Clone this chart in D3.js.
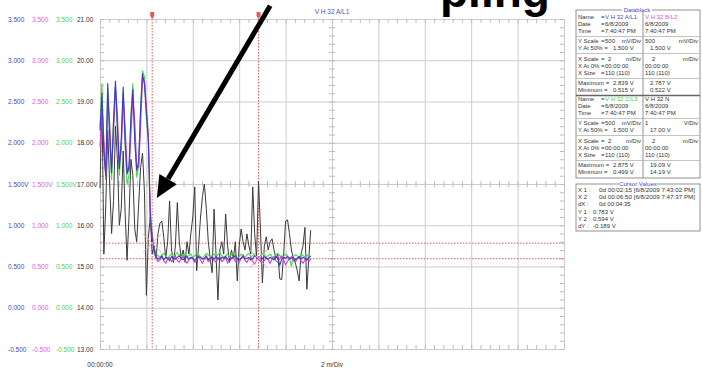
<!DOCTYPE html>
<html><head><meta charset="utf-8">
<script src="https://cdn.jsdelivr.net/npm/d3@7"></script>
<style>
body{margin:0;background:#fff;}
svg{display:block;font-family:"Liberation Sans",Arial,sans-serif;}
</style></head><body>
<svg id="c" width="702" height="373"></svg>
<script>
// ---------------- DATA ----------------
const sampleStep = 5; // seconds between samples (X Size 110)
const blueA = [2.15,2.60,1.90,1.60,2.72,2.10,1.63,2.26,2.75,2.20,1.68,2.05,2.68,2.02,1.62,1.72,2.30,2.65,2.02,1.66,1.78,2.40,2.839,2.70,2.35,2.05,1.10,0.83,0.70,
0.62,0.59,0.60,0.63,0.58,0.61,0.60,0.57,0.62,0.60,
0.59,0.61,0.63,0.60,0.58,0.60,0.62,0.59,0.61,0.60,
0.57,0.60,0.62,0.61,0.59,0.60,0.63,0.58,0.60,0.61,
0.59,0.62,0.60,0.58,0.61,0.60,0.62,0.59,0.57,0.60,
0.61,0.63,0.60,0.58,0.60,0.62,0.59,0.60,0.61,0.58,
0.60,0.63,0.61,0.59,0.56,0.60,0.62,0.60,0.59,0.61,
0.60,0.58,0.62,0.60,0.515,0.59,0.61,0.60,0.62,0.59,
0.60,0.61,0.58,0.60,0.62,0.59,0.61,0.60,0.58,0.61,0.62];
const magentaB = [1.95,2.45,2.05,1.55,2.55,2.25,1.70,2.10,2.65,2.35,1.75,1.90,2.55,2.20,1.70,1.65,2.10,2.55,2.25,1.72,1.70,2.20,2.787,2.75,2.45,2.10,1.20,0.88,0.66,
0.60,0.56,0.58,0.62,0.57,0.54,0.59,0.61,0.56,0.58,
0.63,0.57,0.55,0.60,0.62,0.57,0.54,0.58,0.61,0.59,
0.55,0.57,0.62,0.58,0.54,0.59,0.61,0.56,0.58,0.63,
0.57,0.55,0.60,0.62,0.56,0.58,0.61,0.54,0.57,0.60,
0.62,0.56,0.58,0.55,0.60,0.64,0.57,0.55,0.59,0.61,
0.56,0.53,0.58,0.62,0.60,0.55,0.57,0.61,0.58,0.54,
0.59,0.62,0.57,0.55,0.60,0.63,0.58,0.522,0.56,0.60,
0.62,0.57,0.55,0.59,0.61,0.57,0.54,0.58,0.60,0.56,0.59];
const greenC = [2.20,2.72,1.85,1.62,2.66,2.00,1.55,2.30,2.70,2.10,1.60,2.00,2.62,1.95,1.50,1.60,2.35,2.72,2.05,1.58,1.72,2.45,2.875,2.80,2.30,2.00,1.05,0.90,0.72,
0.66,0.63,0.61,0.64,0.66,0.62,0.60,0.63,0.65,0.62,
0.64,0.67,0.63,0.61,0.64,0.66,0.62,0.63,0.65,0.61,
0.63,0.66,0.64,0.62,0.60,0.63,0.66,0.64,0.61,0.63,
0.65,0.62,0.64,0.67,0.63,0.61,0.63,0.65,0.62,0.64,
0.66,0.63,0.60,0.62,0.65,0.63,0.61,0.64,0.66,0.62,
0.63,0.65,0.61,0.60,0.63,0.66,0.64,0.62,0.63,0.65,
0.62,0.60,0.64,0.66,0.63,0.61,0.62,0.65,0.63,0.60,
0.499,0.62,0.64,0.63,0.61,0.65,0.63,0.62,0.64,0.61,0.63];
const blackN = [16.9,19.09,15.3,16.5,18.3,17.0,15.8,16.6,18.4,17.6,
16.0,16.4,17.8,16.3,15.15,16.2,17.6,17.2,15.9,15.6,
16.5,17.4,17.75,16.8,14.3,15.7,16.2,15.3,15.5,15.2,
15.8,16.05,16.1,15.7,15.2,15.6,16.59,15.4,15.1,15.5,
16.55,15.6,15.2,15.4,15.1,15.6,15.3,15.8,16.2,16.93,
14.9,15.5,16.2,16.7,17.0,16.4,15.6,15.2,14.85,16.39,
15.3,14.19,15.4,15.6,15.3,16.27,15.5,15.1,15.4,15.2,
15.6,14.65,15.5,15.91,15.6,15.4,15.79,15.5,15.3,16.93,
15.8,15.2,17.07,15.9,14.6,15.5,15.72,15.4,15.6,15.67,
15.4,15.2,15.3,14.7,14.68,15.3,16.1,16.13,15.8,15.4,
15.2,15.1,14.9,14.65,15.3,15.5,15.95,14.45,15.2,15.88];

const vTicks = [3.5,3,2.5,2,1.5,1,0.5,0,-0.5];
const vLabels = ["3.500","3.000","2.500","2.000","1.500V","1.000","0.500","0.000","-0.500"];
const nTicks = [21,20,19,18,17,16,15,14,13];
const nLabels = ["21.00","20.00","19.00","18.00","17.00V","16.00","15.00","14.00","13.00"];
const timeMajor = [0,120,240,360,480,600,720,840,960,1080,1200];
const cursorX = [135, 410];     // seconds (X1 = 00:02:15, X2 = 00:06:50)
const cursorY = [0.783, 0.594]; // volts

const dbLabels = ["Name","Date","Time","Y Scale","Y At 50%","X Scale","X At 0%","X Size","Maximum","Minimum"];
const dbBlock1 = [
  ["V H 32 A/L1","6/8/2009","7:40:47 PM","500","1.500 V","2","00:00:00","110 (110)","2.839 V","0.515 V"],
  ["V H 32 B/L2","6/8/2009","7:40:47 PM","500","1.500 V","2","00:00:00","110 (110)","2.787 V","0.522 V"]];
const dbBlock2 = [
  ["V H 32 C/L3","6/8/2009","7:40:47 PM","500","1.500 V","2","00:00:00","110 (110)","2.875 V","0.499 V"],
  ["V H 32 N","6/8/2009","7:40:47 PM","1","17.00  V","2","00:00:00","110 (110)","19.09  V","14.19  V"]];
const dbUnits1 = [["mV/Div","m/Div"],["mV/Div","m/Div"]];
const dbUnits2 = [["mV/Div","m/Div"],["V/Div","m/Div"]];
const cursorRows = [
  ["X 1 :","0d 00:02:15 [6/8/2009 7:43:02 PM]"],
  ["X 2 :","0d 00:06:50 [6/8/2009 7:47:37 PM]"],
  ["dX :","0d 00:04:35"],
  ["Y 1 :","0.783 V"],
  ["Y 2 :","0.594 V"],
  ["dY :","-0.189 V"]];

// ---------------- CHART ----------------
const svg = d3.select("#c");
const L=100, R=564, T=19, B=349;
const x = d3.scaleLinear().domain([0,1200]).range([L,R]);
const yV = d3.scaleLinear().domain([-0.5,3.5]).range([B,T]);
const yN = d3.scaleLinear().domain([13,21]).range([B,T]);
const gridCol = "#cccccc";

// slide title fragment (cropped at top, behind the chart)
svg.append("text").attr("x",440).attr("y",7).style("font-size","46px").style("font-weight","bold")
  .attr("fill","#000").text("pling");

// major grid
svg.append("g").attr("transform",`translate(0,${B})`)
  .call(d3.axisBottom(x).tickValues(timeMajor).tickSize(-(B-T)).tickFormat(""))
  .call(g=>{g.select(".domain").remove();g.selectAll("line").attr("stroke",gridCol);});
svg.append("g").attr("transform",`translate(${L},0)`)
  .call(d3.axisLeft(yV).tickValues(vTicks).tickSize(-(R-L)).tickFormat(""))
  .call(g=>{g.select(".domain").remove();g.selectAll("line").attr("stroke",gridCol);});

// minor ticks
const tMinor = d3.range(0,1201,24);
const vMinor = d3.range(-5,36,1).map(d=>d/10);
const minor = (axis, tr) => svg.append("g").attr("transform",tr).call(axis)
  .call(g=>{g.select(".domain").remove();g.selectAll("line").attr("stroke","#bdbdbd");});
minor(d3.axisBottom(x).tickValues(tMinor).tickSize(4).tickFormat(""), `translate(0,${T})`);
minor(d3.axisTop(x).tickValues(tMinor).tickSize(4).tickFormat(""), `translate(0,${B})`);
minor(d3.axisBottom(x).tickValues(tMinor).tickSize(3).tickFormat(""), `translate(0,${yV(1.5)})`);
minor(d3.axisTop(x).tickValues(tMinor).tickSize(3).tickFormat(""), `translate(0,${yV(1.5)})`);
minor(d3.axisRight(yV).tickValues(vMinor).tickSize(4).tickFormat(""), `translate(${L},0)`);
minor(d3.axisLeft(yV).tickValues(vMinor).tickSize(4).tickFormat(""), `translate(${R},0)`);
minor(d3.axisRight(yV).tickValues(vMinor).tickSize(3).tickFormat(""), `translate(${x(600)},0)`);
minor(d3.axisLeft(yV).tickValues(vMinor).tickSize(3).tickFormat(""), `translate(${x(600)},0)`);

// left labels (four columns)
const labelAxis = (scale, ticks, labels, color, xpos) => svg.append("g")
  .attr("transform",`translate(${xpos},0)`)
  .call(d3.axisRight(scale).tickValues(ticks).tickFormat((d,i)=>labels[i]).tickSize(0).tickPadding(0))
  .call(g=>{g.select(".domain").remove();g.selectAll("text").attr("fill",color).style("font-size","6.5px");});
labelAxis(yV, vTicks, vLabels, "#4a4aa8", 8);
labelAxis(yV, vTicks, vLabels, "#e060e0", 32);
labelAxis(yV, vTicks, vLabels, "#50d050", 56);
labelAxis(yN, nTicks, nLabels, "#333333", 77);

// time labels
svg.append("text").attr("x",x(0)).attr("y",367).attr("text-anchor","middle")
  .style("font-size","6.5px").attr("fill","#333").text("00:00:00");
svg.append("text").attr("x",x(600)).attr("y",367).attr("text-anchor","middle")
  .style("font-size","6.5px").attr("fill","#333").text("2 m/Div");
svg.append("text").attr("x",x(600)).attr("y",14).attr("text-anchor","middle")
  .style("font-size","6.5px").attr("fill","#5050c0").text("V H 32 A/L1");

// cursors
const red = "#e05a5a";
cursorY.forEach(v=>svg.append("line").attr("x1",L).attr("x2",R).attr("y1",yV(v)).attr("y2",yV(v))
  .attr("stroke",red).attr("stroke-width",1).attr("stroke-dasharray","1.5,1.5"));
cursorX.forEach(t=>{
  svg.append("line").attr("x1",x(t)).attr("x2",x(t)).attr("y1",13).attr("y2",B)
    .attr("stroke",red).attr("stroke-width",1).attr("stroke-dasharray","1.5,1.5");
  svg.append("path").attr("d",`M${x(t)-2},12 h4 v4 l-2,3 l-2,-3 z`).attr("fill",red);
});

// traces
const line = sc => d3.line().x((d,i)=>x(i*sampleStep)).y(d=>sc(d));
svg.append("path").datum(blackN).attr("d",line(yN)).attr("fill","none").attr("stroke","#3a3a3a").attr("stroke-width",1);
svg.append("path").datum(greenC).attr("d",line(yV)).attr("fill","none").attr("stroke","#44dd44").attr("stroke-width",1.1);
svg.append("path").datum(magentaB).attr("d",line(yV)).attr("fill","none").attr("stroke","#d63ad6").attr("stroke-width",1.1);
svg.append("path").datum(blueA).attr("d",line(yV)).attr("fill","none").attr("stroke","#3b3bc4").attr("stroke-width",1.1);

// cursor cross markers
cursorX.forEach((t,i)=>{
  const cx=x(t), cy=yV(cursorY[i]);
  svg.append("path").attr("d",`M${cx-9},${cy-9}L${cx+9},${cy+9}M${cx-9},${cy+9}L${cx+9},${cy-9}`)
    .attr("stroke","#f0a8b8").attr("stroke-width",1).attr("fill","none");
});

// annotation arrow (data space: time s, N volts)
const arrowFrom = [440, 21.32], arrowTo = [147, 16.66];
const ax1=x(arrowFrom[0]), ay1=yN(arrowFrom[1]), ax2=x(arrowTo[0]), ay2=yN(arrowTo[1]);
const ang=Math.atan2(ay2-ay1, ax2-ax1), hl=22, hw=10;
const bx=ax2-hl*Math.cos(ang), by=ay2-hl*Math.sin(ang);
svg.append("line").attr("x1",ax1).attr("y1",ay1).attr("x2",bx).attr("y2",by)
  .attr("stroke","#000").attr("stroke-width",5);
svg.append("path").attr("d",`M${ax2},${ay2}L${bx+hw*Math.sin(ang)},${by-hw*Math.cos(ang)}L${bx-hw*Math.sin(ang)},${by+hw*Math.cos(ang)}Z`)
  .attr("fill","#000");

// ---------------- DATABLOCK ----------------
const db = svg.append("g").style("font-size","6px").attr("fill","#333");
const dbL=576, dbR=700, dbMid=643;
db.append("rect").attr("x",dbL).attr("y",10).attr("width",dbR-dbL).attr("height",168)
  .attr("fill","#fff").attr("stroke","#777").attr("stroke-width",0.8);
db.append("rect").attr("x",622).attr("y",6).attr("width",30).attr("height",8).attr("fill","#fff");
db.append("text").attr("x",637).attr("y",12).attr("text-anchor","middle").attr("fill","#4a4ad0").text("Datablock");
db.append("line").attr("x1",dbMid).attr("x2",dbMid).attr("y1",10).attr("y2",178).attr("stroke","#777").attr("stroke-width",0.8);
const rowY1 = [19,26,33,43,50,61,68,75,85,92];
const rowY2 = rowY1.map(v=>v+82);
const seps1 = [36.5,53.5,78.5], seps2 = seps1.map(v=>v+82);
seps1.concat(seps2).forEach(s=>db.append("line").attr("x1",dbL).attr("x2",dbR).attr("y1",s).attr("y2",s).attr("stroke","#aaa").attr("stroke-width",0.7));
db.append("line").attr("x1",dbL).attr("x2",dbR).attr("y1",95.5).attr("y2",95.5).attr("stroke","#666").attr("stroke-width",1.4);
const nameCols = [["#4a4ad0","#e050e0"],["#40d040","#333"]];
[[dbBlock1,rowY1,dbUnits1],[dbBlock2,rowY2,dbUnits2]].forEach(([blk,ry,units],bi)=>{
  dbLabels.forEach((lab,r)=>{
    const longLab = (r===4||r===8||r===9);
    db.append("text").attr("x",578).attr("y",ry[r]).text(lab + (longLab?" =":""));
    if(!longLab) db.append("text").attr("x",601).attr("y",ry[r]).text("=");
    const vx = longLab?613:605;
    db.append("text").attr("x",r===5?608:vx).attr("y",ry[r]).attr("fill",r===0?nameCols[bi][0]:"#333").text(blk[0][r]);
    db.append("text").attr("x",r===5?652:(longLab?650:645)).attr("y",ry[r]).attr("fill",r===0?nameCols[bi][1]:"#333").text(blk[1][r]);
  });
  [3,5].forEach((r,k)=>{
    db.append("text").attr("x",641).attr("y",ry[r]).attr("text-anchor","end").text(units[0][k]);
    db.append("text").attr("x",698).attr("y",ry[r]).attr("text-anchor","end").text(units[1][k]);
  });
});
// cursor values box
db.append("rect").attr("x",dbL).attr("y",184).attr("width",dbR-dbL).attr("height",47)
  .attr("fill","#fff").attr("stroke","#777").attr("stroke-width",0.8);
db.append("rect").attr("x",619).attr("y",180).attr("width",38).attr("height",8).attr("fill","#fff");
db.append("text").attr("x",638).attr("y",186).attr("text-anchor","middle").attr("fill","#4a4ad0").text("Cursor Values");
cursorRows.forEach((r,i)=>{
  const yy = 192 + i*7.2;
  db.append("text").attr("x",578).attr("y",yy).text(r[0]);
  const t = db.append("text").attr("x",i<3?599:593).attr("y",yy).text(r[1]);
  if(i<2) t.attr("textLength",96).attr("lengthAdjust","spacingAndGlyphs");
});
</script>
</body></html>
